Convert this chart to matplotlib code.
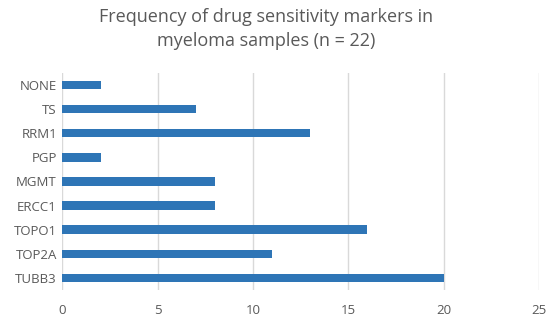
import matplotlib
matplotlib.use("Agg")
import matplotlib.pyplot as plt

categories = ["NONE", "TS", "RRM1", "PGP", "MGMT", "ERCC1", "TOPO1", "TOP2A", "TUBB3"]
values = [2, 7, 13, 2, 8, 8, 16, 11, 20]
xticks = [0, 5, 10, 15, 20, 25]
title = "Frequency of drug sensitivity markers in\nmyeloma samples (n = 22)"

plt.rcParams['font.family'] = ['Open Sans', 'DejaVu Sans']
fig = plt.figure(figsize=(5.5, 3.2), dpi=100)
ax = fig.add_axes([0.1136, 0.094, 0.866, 0.678])

# top category first from top
n = len(categories)
ypos = list(range(n - 1, -1, -1))
ax.barh(ypos, values, height=0.35, color="#2E75B6", zorder=3)
ax.set_yticks(ypos)
ax.set_yticklabels(categories)
ax.set_ylim(-0.5, n - 0.5)
ax.set_xlim(0, 25)
ax.set_xticks(xticks)
ax.xaxis.grid(True, color="#D9D9D9", linewidth=1, zorder=0)
for s in ax.spines.values():
    s.set_visible(False)
ax.tick_params(axis='both', length=0, colors="#595959", labelsize=9.5)
ax.tick_params(axis='x', pad=10)
ax.tick_params(axis='y', pad=4)

fig.text(0.484, 0.975, title, ha="center", va="top", fontsize=13, color="#595959", linespacing=1.45)

fig.savefig("out.png", dpi=100)
